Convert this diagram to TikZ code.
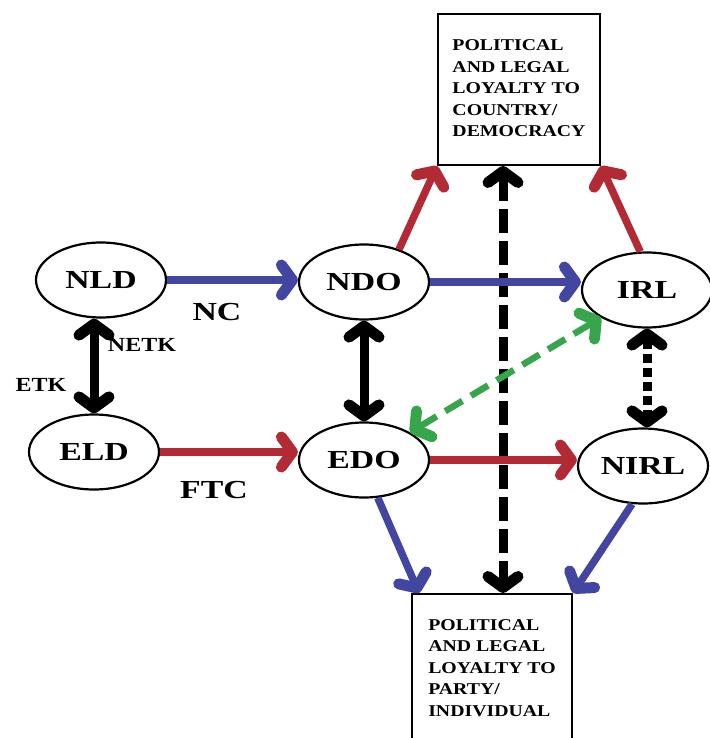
\documentclass[tikz,border=0pt]{standalone}
\usepackage{fontspec}
\usepackage{graphicx}
\setmainfont{Liberation Serif}
\usetikzlibrary{arrows.meta,shapes.geometric,calc}
\definecolor{ablue}{RGB}{66,70,160}
\definecolor{ared}{RGB}{178,42,52}
\definecolor{agreen}{RGB}{55,165,75}
\newcommand\wide[1]{\scalebox{1.3}[1]{#1}}
\newcommand\boxwide[1]{\scalebox{1.2}[1]{#1}}
\begin{document}
\begin{tikzpicture}[x=1pt,y=-1pt,
  >={Straight Barb[length=11pt,width=30pt,round,line width=11pt]},
  ell/.style={ellipse, draw, line width=2.2pt, minimum width=130pt, minimum height=75pt, inner sep=0pt, font=\fontsize{26}{28}\selectfont\bfseries},
  big/.style={inner sep=0pt, font=\fontsize{26}{28}\selectfont\bfseries},
  lbl/.style={inner sep=0pt, font=\fontsize{20}{22}\selectfont\bfseries},
  box/.style={draw, line width=2pt, inner sep=0pt, font=\fontsize{16.5}{21.5}\selectfont\bfseries},
  bluearrow/.style={->, ablue, line width=7.5pt},
  redarrow/.style={->, ared, line width=7.5pt},
  blackarrow/.style={<->, black, line width=9pt},
  dotarrow/.style={<->, black, line width=9pt, dash pattern=on 9pt off 5pt},
  greenarrow/.style={<->, agreen, line width=6.5pt, dash pattern=on 20pt off 10pt},
  vertarrow/.style={<->, black, line width=9pt, dash pattern=on 24pt off 8pt}]
\useasboundingbox (0,0) rectangle (709,738);
\fill[white] (0,0) rectangle (709,738);
% nodes
\node[ell] (nld) at (101,280) {\wide{NLD}};
\node[ell] (eld) at (94,452) {\wide{ELD}};
\node[ell] (ndo) at (364,282) {\wide{NDO}};
\node[ell] (edo) at (364,460) {\wide{EDO}};
\node[ell] (irl) at (647,290) {\wide{IRL}};
\node[ell] (nirl) at (643,466) {\wide{NIRL}};
\node[box, minimum width=162pt, minimum height=151pt] (top) at (519,89.5)
  {\boxwide{\begin{tabular}{@{}l@{}}POLITICAL\\AND LEGAL\\LOYALTY TO\\COUNTRY/\\DEMOCRACY\end{tabular}}};
\node[box, anchor=north, minimum width=160pt, minimum height=150pt] (bot) at (492,593)
  {\boxwide{\begin{tabular}{@{}l@{}}POLITICAL\\AND LEGAL\\LOYALTY TO\\PARTY/\\INDIVIDUAL\end{tabular}}};
% labels
\node[big] (nc) at (217,312) {\wide{NC}};
\node[big] (ftc) at (214,490) {\wide{FTC}};
\node[lbl] (netk) at (142,345) {\boxwide{NETK}};
\node[lbl] (etk) at (41,385) {\boxwide{ETK}};
% vertical dash-dot connector
\coordinate (vx) at (503,0);
\draw[vertarrow] (vx |- top.south) -- (vx |- bot.north);
% horizontal connectors
\draw[bluearrow] (nld.east) -- (nld.east -| ndo.west);
\draw[bluearrow] (ndo.east) -- (irl.west |- ndo.east);
\draw[redarrow] (eld.east) -- (eld.east -| edo.west);
\draw[redarrow] (edo.east) -- (nirl.west |- edo.east);
% vertical connectors
\draw[blackarrow] (eld.north |- nld.south) -- (eld.north);
\draw[blackarrow] (ndo.south) -- (edo.north);
\draw[dotarrow] (irl.south) -- (irl.south |- nirl.north);
\draw[greenarrow] (edo) -- (irl);
% diagonals to boxes
\draw[redarrow] (ndo.43) -- (top.south west);
\draw[redarrow] (irl.100) -- (top.south east);
\draw[bluearrow] (edo.-70) -- ($(bot.north west)+(8,0)$);
\draw[bluearrow] (nirl.-106) -- (bot.north east);
\end{tikzpicture}
\end{document}
